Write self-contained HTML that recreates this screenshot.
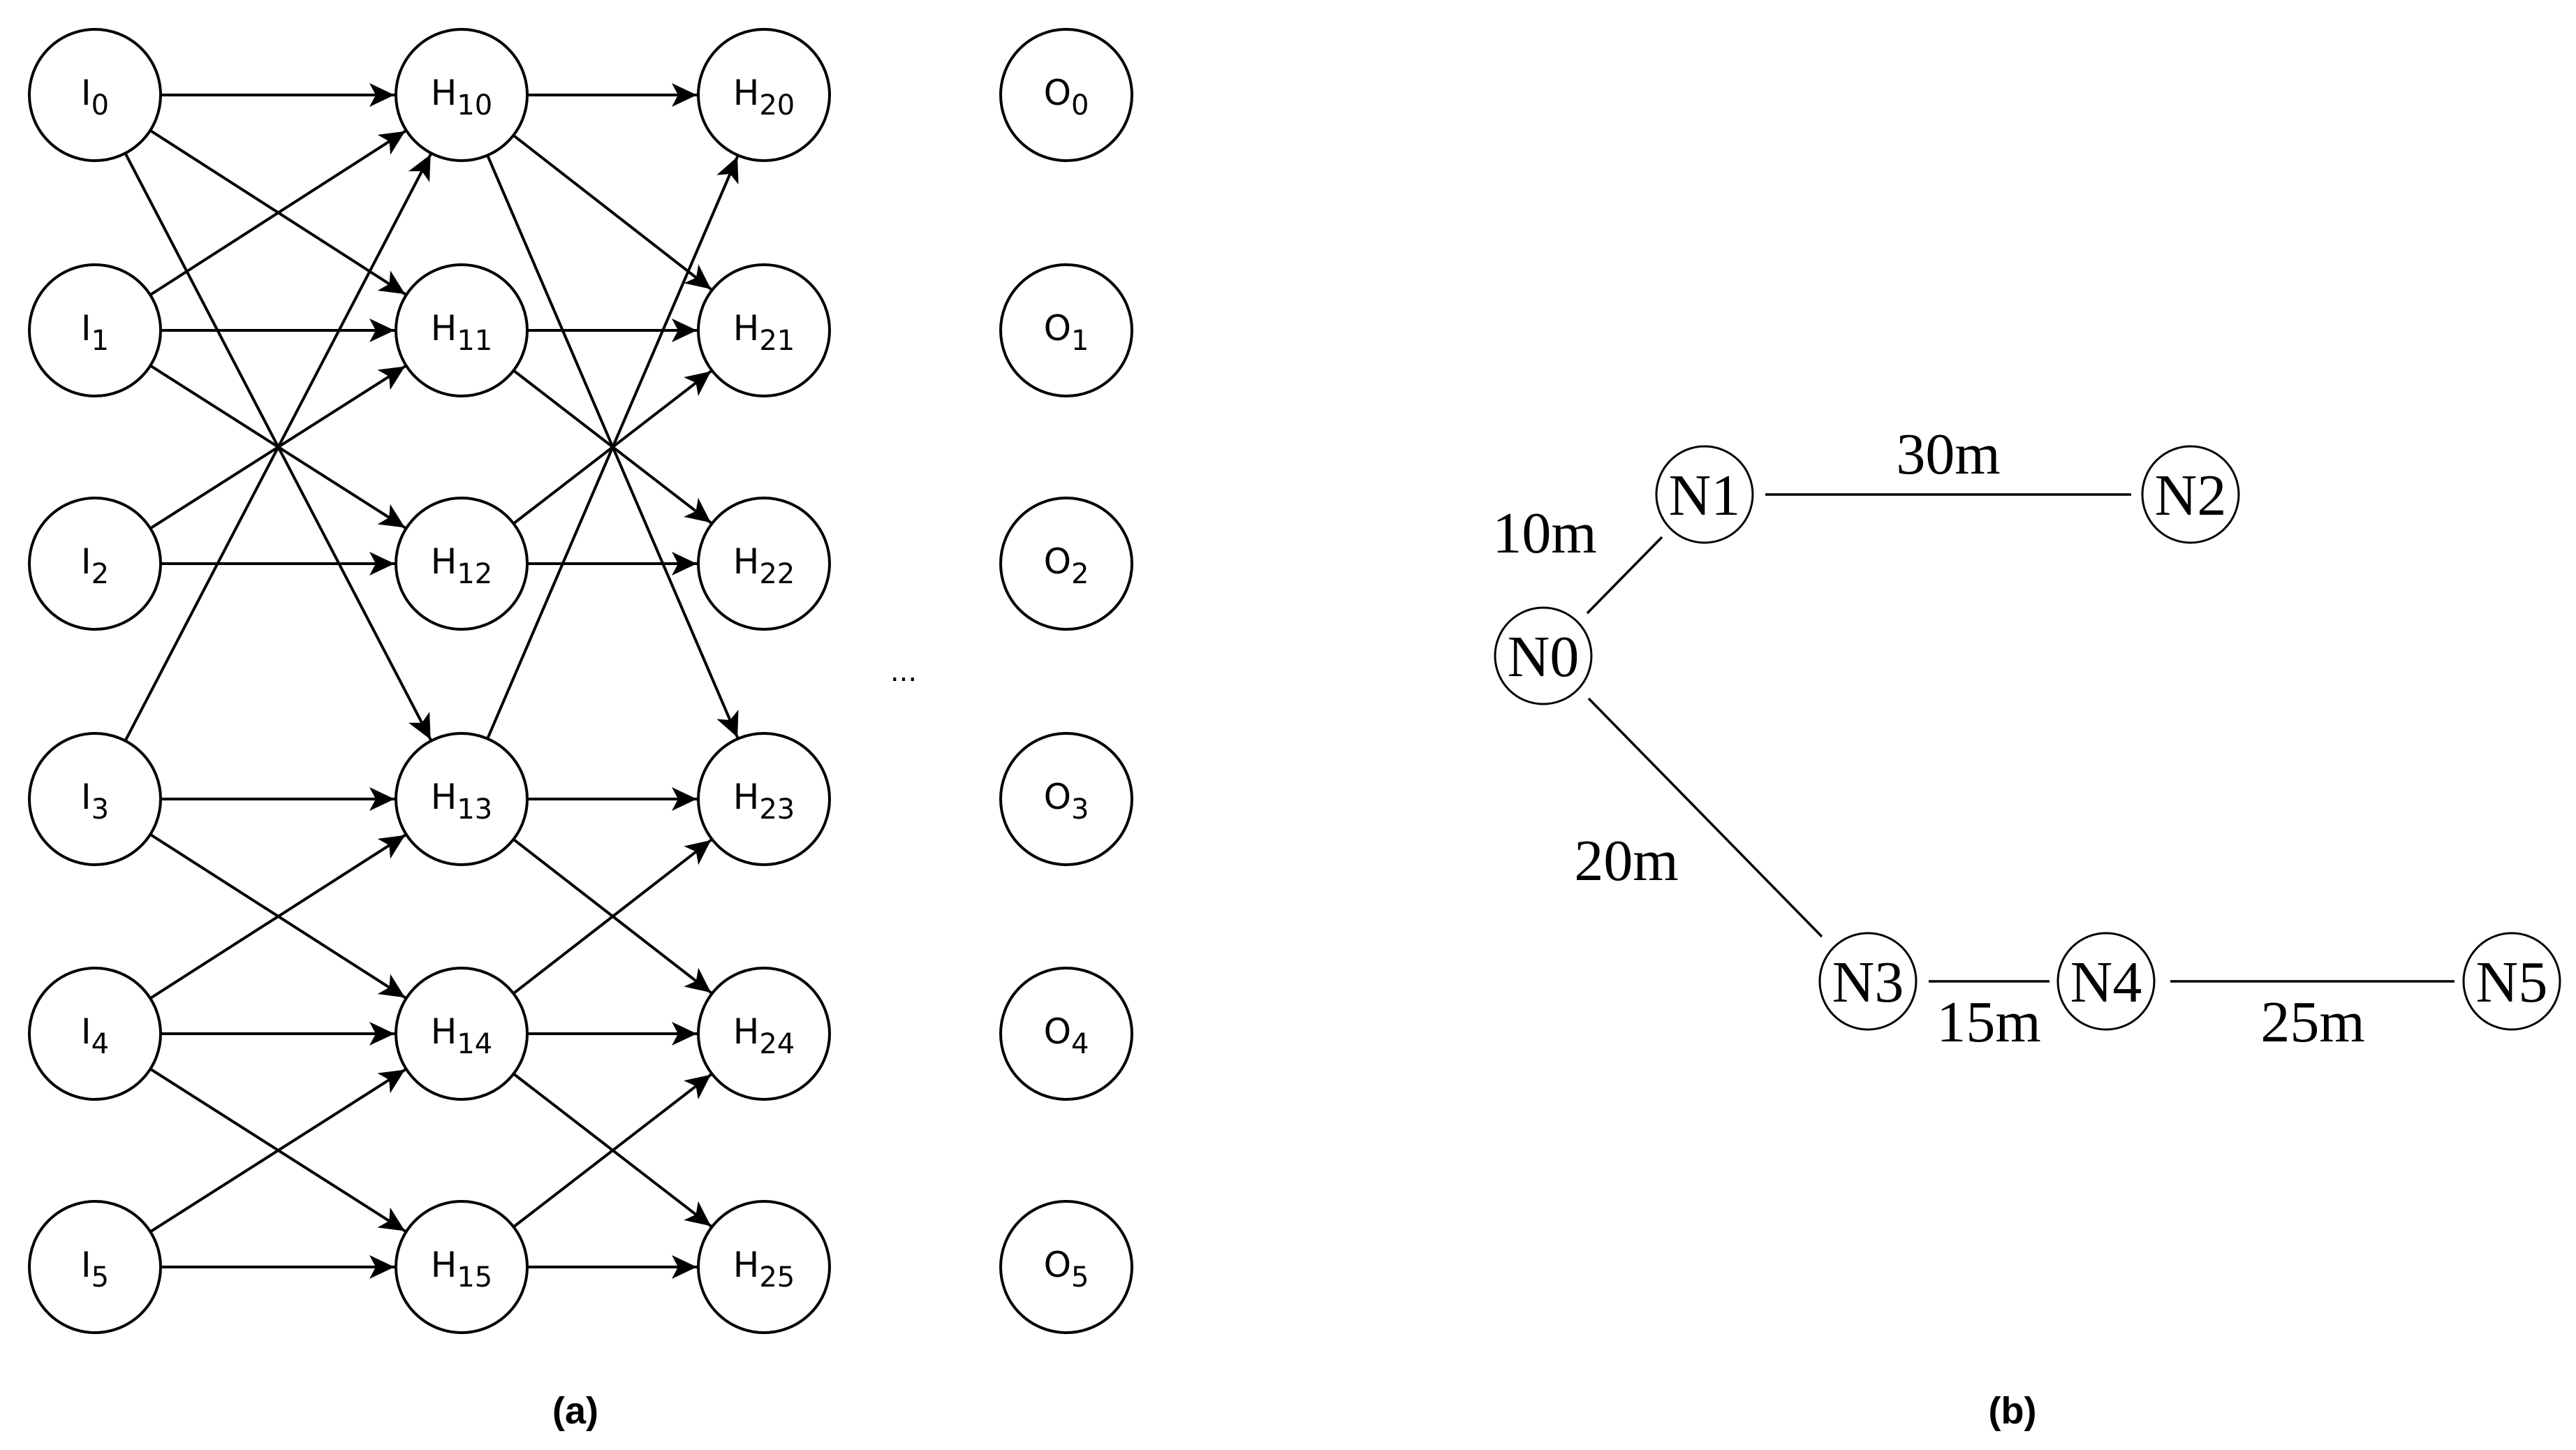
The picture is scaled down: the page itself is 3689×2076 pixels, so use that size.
<!DOCTYPE html>
<html><head><meta charset="utf-8"><style>
html,body{margin:0;padding:0;background:#fff}
svg{display:block}
.s{font-family:"DejaVu Sans","Liberation Sans",sans-serif;font-size:50px}
.r{font-family:"Liberation Serif",serif;font-size:84px}
.c{font-family:"Liberation Sans",sans-serif;font-size:54px;font-weight:bold}
</style></head><body>
<svg width="3689" height="2076" viewBox="0 0 3689 2076" xmlns="http://www.w3.org/2000/svg">
<defs>
<marker id="a" markerUnits="userSpaceOnUse" orient="auto" markerWidth="10" markerHeight="10" refX="0" refY="0" overflow="visible">
<path d="M-96,0 L-132,-17 L-123,0 L-132,17 Z" fill="#000"/>
</marker>
</defs>
<g stroke="#000" stroke-width="4" marker-end="url(#a)">
<!-- I -> H1 -->
<line x1="136" y1="136" x2="661" y2="136"/>
<line x1="136" y1="136" x2="661" y2="473"/>
<line x1="136" y1="136" x2="661" y2="1144"/>
<line x1="136" y1="473" x2="661" y2="136"/>
<line x1="136" y1="473" x2="661" y2="473"/>
<line x1="136" y1="473" x2="661" y2="807"/>
<line x1="136" y1="807" x2="661" y2="473"/>
<line x1="136" y1="807" x2="661" y2="807"/>
<line x1="136" y1="1144" x2="661" y2="136"/>
<line x1="136" y1="1144" x2="661" y2="1144"/>
<line x1="136" y1="1144" x2="661" y2="1480"/>
<line x1="136" y1="1480" x2="661" y2="1144"/>
<line x1="136" y1="1480" x2="661" y2="1480"/>
<line x1="136" y1="1480" x2="661" y2="1814"/>
<line x1="136" y1="1814" x2="661" y2="1480"/>
<line x1="136" y1="1814" x2="661" y2="1814"/>
<!-- H1 -> H2 -->
<line x1="661" y1="136" x2="1094" y2="136"/>
<line x1="661" y1="136" x2="1094" y2="473"/>
<line x1="661" y1="136" x2="1094" y2="1144"/>
<line x1="661" y1="473" x2="1094" y2="473"/>
<line x1="661" y1="473" x2="1094" y2="807"/>
<line x1="661" y1="807" x2="1094" y2="473"/>
<line x1="661" y1="807" x2="1094" y2="807"/>
<line x1="661" y1="1144" x2="1094" y2="136"/>
<line x1="661" y1="1144" x2="1094" y2="1144"/>
<line x1="661" y1="1144" x2="1094" y2="1480"/>
<line x1="661" y1="1480" x2="1094" y2="1144"/>
<line x1="661" y1="1480" x2="1094" y2="1480"/>
<line x1="661" y1="1480" x2="1094" y2="1814"/>
<line x1="661" y1="1814" x2="1094" y2="1480"/>
<line x1="661" y1="1814" x2="1094" y2="1814"/>
</g>
<g fill="#fff" stroke="#000" stroke-width="4">
<circle cx="136" cy="136" r="94"/><circle cx="136" cy="473" r="94"/><circle cx="136" cy="807" r="94"/><circle cx="136" cy="1144" r="94"/><circle cx="136" cy="1480" r="94"/><circle cx="136" cy="1814" r="94"/>
<circle cx="661" cy="136" r="94"/><circle cx="661" cy="473" r="94"/><circle cx="661" cy="807" r="94"/><circle cx="661" cy="1144" r="94"/><circle cx="661" cy="1480" r="94"/><circle cx="661" cy="1814" r="94"/>
<circle cx="1094" cy="136" r="94"/><circle cx="1094" cy="473" r="94"/><circle cx="1094" cy="807" r="94"/><circle cx="1094" cy="1144" r="94"/><circle cx="1094" cy="1480" r="94"/><circle cx="1094" cy="1814" r="94"/>
<circle cx="1527" cy="136" r="94"/><circle cx="1527" cy="473" r="94"/><circle cx="1527" cy="807" r="94"/><circle cx="1527" cy="1144" r="94"/><circle cx="1527" cy="1480" r="94"/><circle cx="1527" cy="1814" r="94"/>
</g>
<g class="s" fill="#000" text-anchor="middle">
<text x="136" y="150">I<tspan font-size="40" dy="14">0</tspan></text>
<text x="136" y="487">I<tspan font-size="40" dy="14">1</tspan></text>
<text x="136" y="821">I<tspan font-size="40" dy="14">2</tspan></text>
<text x="136" y="1158">I<tspan font-size="40" dy="14">3</tspan></text>
<text x="136" y="1494">I<tspan font-size="40" dy="14">4</tspan></text>
<text x="136" y="1828">I<tspan font-size="40" dy="14">5</tspan></text>
<text x="661" y="150">H<tspan font-size="40" dy="14">10</tspan></text>
<text x="661" y="487">H<tspan font-size="40" dy="14">11</tspan></text>
<text x="661" y="821">H<tspan font-size="40" dy="14">12</tspan></text>
<text x="661" y="1158">H<tspan font-size="40" dy="14">13</tspan></text>
<text x="661" y="1494">H<tspan font-size="40" dy="14">14</tspan></text>
<text x="661" y="1828">H<tspan font-size="40" dy="14">15</tspan></text>
<text x="1094" y="150">H<tspan font-size="40" dy="14">20</tspan></text>
<text x="1094" y="487">H<tspan font-size="40" dy="14">21</tspan></text>
<text x="1094" y="821">H<tspan font-size="40" dy="14">22</tspan></text>
<text x="1094" y="1158">H<tspan font-size="40" dy="14">23</tspan></text>
<text x="1094" y="1494">H<tspan font-size="40" dy="14">24</tspan></text>
<text x="1094" y="1828">H<tspan font-size="40" dy="14">25</tspan></text>
<text x="1527" y="150">O<tspan font-size="40" dy="14">0</tspan></text>
<text x="1527" y="487">O<tspan font-size="40" dy="14">1</tspan></text>
<text x="1527" y="821">O<tspan font-size="40" dy="14">2</tspan></text>
<text x="1527" y="1158">O<tspan font-size="40" dy="14">3</tspan></text>
<text x="1527" y="1494">O<tspan font-size="40" dy="14">4</tspan></text>
<text x="1527" y="1828">O<tspan font-size="40" dy="14">5</tspan></text>
<text x="1294" y="975" font-size="40">...</text>
</g>
<!-- right graph -->
<g stroke="#000" stroke-width="3.5">
<line x1="2528" y1="708" x2="3052" y2="708"/>
<line x1="2273" y1="878" x2="2380" y2="769"/>
<line x1="2275" y1="1000" x2="2609" y2="1341"/>
<line x1="2762" y1="1405" x2="2935" y2="1405"/>
<line x1="3108" y1="1405" x2="3515" y2="1405"/>
</g>
<g fill="none" stroke="#000" stroke-width="3">
<circle cx="2441" cy="708" r="69"/><circle cx="3137" cy="708" r="69"/><circle cx="2210" cy="939" r="69"/>
<circle cx="2675" cy="1405" r="69"/><circle cx="3016" cy="1405" r="69"/><circle cx="3597" cy="1405" r="69"/>
</g>
<g class="r" fill="#000" text-anchor="middle">
<text x="2441" y="737">N1</text><text x="3137" y="737">N2</text><text x="2210" y="968">N0</text>
<text x="2675" y="1434">N3</text><text x="3016" y="1434">N4</text><text x="3597" y="1434">N5</text>
<text x="2790" y="678">30m</text>
<text x="2212" y="791">10m</text>
<text x="2329" y="1260">20m</text>
<text x="2848" y="1491">15m</text>
<text x="3312" y="1491">25m</text>
</g>
<g class="c" fill="#000" text-anchor="middle">
<text x="824" y="2038">(a)</text>
<text x="2882" y="2038">(b)</text>
</g>
</svg>
</body></html>
